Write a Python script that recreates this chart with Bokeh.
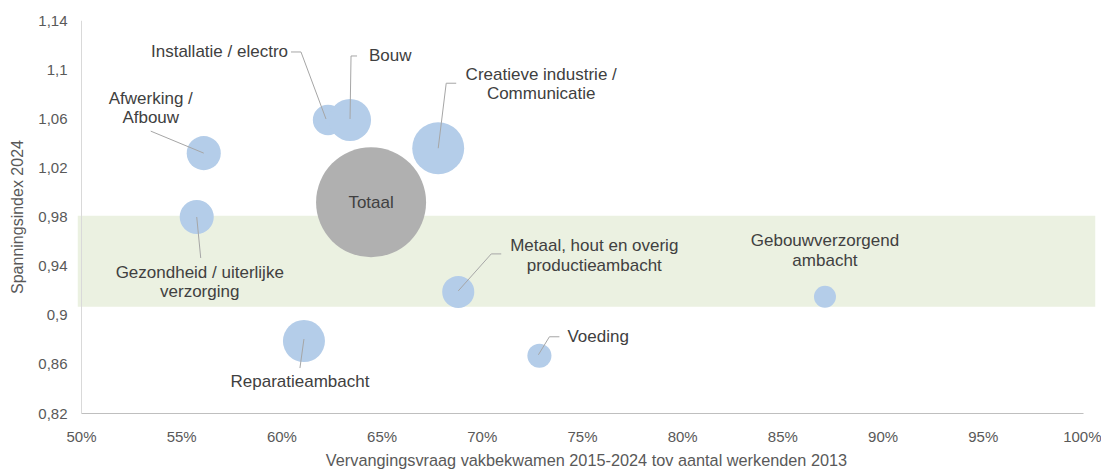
import math
from bokeh.plotting import figure
from bokeh.models import FixedTicker, ColumnDataSource, Range1d
from bokeh.core.properties import value
from bokeh.embed import file_html
from bokeh.resources import INLINE

# ---------------- data ----------------
categories = ["Afwerking /\nAfbouw", "Gezondheid / uiterlijke\nverzorging", "Installatie / electro",
              "Bouw", "Totaal", "Creatieve industrie /\nCommunicatie",
              "Metaal, hout en overig\nproductieambacht", "Reparatieambacht", "Voeding",
              "Gebouwverzorgend\nambacht"]
vervangingsvraag = [56.1, 55.75, 62.3, 63.4, 64.45, 67.8, 68.8, 61.1, 72.85, 87.1]   # %
spanningsindex = [1.032, 0.980, 1.059, 1.059, 0.992, 1.036, 0.919, 0.879, 0.867, 0.915]
bubble_size = [9.6, 9.6, 7.6, 14.6, 100.0, 22.3, 8.5, 14.6, 4.8, 4.0]            # relative, Totaal = 100
is_total = [False, False, False, False, True, False, False, False, False, False]

x_ticks = [50, 55, 60, 65, 70, 75, 80, 85, 90, 95, 100]
x_tick_labels = ["50%", "55%", "60%", "65%", "70%", "75%", "80%", "85%", "90%", "95%", "100%"]
y_ticks = [0.82, 0.86, 0.90, 0.94, 0.98, 1.02, 1.06, 1.10, 1.14]
y_tick_labels = ["0,82", "0,86", "0,9", "0,94", "0,98", "1,02", "1,06", "1,1", "1,14"]
band_bottom, band_top = 0.907, 0.981

x_title = "Vervangingsvraag vakbekwamen 2015-2024 tov aantal werkenden 2013"
y_title = "Spanningsindex 2024"

# ---------------- label placement (screen px offsets from bubble centre) ----------------
label_dx = [-53, 3, -40, 19, 0, 103, 136, -4, 28, 0]
label_dy = [-55, 55, -68, -64, 0, -74, -46, 40, -19, -56]
label_align = ["center", "center", "right", "left", "center", "center", "center", "center", "left", "center"]
leaders = [
    [(-53, -22), (0, 0)],
    [(0, 0), (4, 41)],
    [(-37, -68), (-27, -68), (-2, -1)],
    [(7, -64), (1, -64), (0, -1)],
    None,
    [(18, -65), (8, -65), (0, 0)],
    [(43, -38), (33, -38), (0, -1)],
    [(0, -2), (-4, 27)],
    [(20, -19), (10, -19), (-1, -1)],
    None,
]
LINE_H = 19.5

# ---------------- figure ----------------
x_start, x_end = 49.8, 100.6
y_start, y_end = 0.82, 1.14
FW, FH = 1018, 393
XS = FW / (x_end - x_start)
YS = FH / (y_end - y_start)

FONT = "Liberation Sans"

p = figure(frame_width=FW, frame_height=FH,
           x_range=Range1d(x_start, x_end), y_range=Range1d(y_start, y_end),
           output_backend="svg", toolbar_location=None,
           min_border_left=77, min_border_right=6, min_border_top=20, min_border_bottom=20,
           x_axis_label=x_title, y_axis_label=y_title)
p.grid.visible = False
p.outline_line_color = None
p.background_fill_color = "white"
p.border_fill_color = "white"

xa = p.xaxis[0]
xa.ticker = FixedTicker(ticks=x_ticks)
xa.major_label_overrides = {t: l for t, l in zip(x_ticks, x_tick_labels)}
xa.bounds = (50, 100)
xa.axis_line_color = "#bfbfbf"
xa.axis_line_width = 1
xa.major_tick_line_color = None
xa.minor_tick_line_color = None
xa.major_tick_out = 0
xa.major_tick_in = 0
xa.minor_tick_out = 0
xa.minor_tick_in = 0
xa.major_label_standoff = 14
xa.major_label_text_font = FONT
xa.major_label_text_font_size = "15px"
xa.major_label_text_color = "#595959"
xa.axis_label_text_font = FONT
xa.axis_label_text_font_size = "16.3px"
xa.axis_label_text_font_style = "normal"
xa.axis_label_text_color = "#595959"
xa.axis_label_standoff = 3

ya = p.yaxis[0]
ya.ticker = FixedTicker(ticks=y_ticks)
ya.major_label_overrides = {t: l for t, l in zip(y_ticks, y_tick_labels)}
ya.axis_line_color = None
ya.major_tick_line_color = None
ya.minor_tick_line_color = None
ya.major_tick_out = 0
ya.major_tick_in = 0
ya.minor_tick_out = 0
ya.minor_tick_in = 0
ya.major_label_standoff = 10
ya.major_label_text_font = FONT
ya.major_label_text_font_size = "15px"
ya.major_label_text_color = "#595959"
ya.axis_label_text_font = FONT
ya.axis_label_text_font_size = "16px"
ya.axis_label_text_font_style = "normal"
ya.axis_label_text_color = "#595959"
ya.axis_label_standoff = 9

# green band
p.quad(left=x_start, right=x_end, bottom=band_bottom, top=band_top,
       fill_color="#ebf1e1", line_color=None)
# vertical axis line at 50%
p.segment(x0=[50], y0=[y_start], x1=[50], y1=[y_end], line_color="#d9d9d9", line_width=1)

# bubbles
colors = ["#b0b0b0" if t else "#b4cde9" for t in is_total]
diam = [110.0 * math.sqrt(s / 100.0) for s in bubble_size]
src = ColumnDataSource(dict(x=vervangingsvraag, y=spanningsindex, size=diam, color=colors))
p.scatter(x="x", y="y", size="size", fill_color="color", line_color=None, source=src)

# leader lines
lx, ly = [], []
for i, pts in enumerate(leaders):
    if not pts:
        continue
    cx, cy = vervangingsvraag[i], spanningsindex[i]
    lx.append([cx + dx / XS for dx, dy in pts])
    ly.append([cy - dy / YS for dx, dy in pts])
p.multi_line(xs=lx, ys=ly, line_color="#a6a6a6", line_width=1)

# labels
groups = {}
for i, cat in enumerate(categories):
    lines = cat.split("\n")
    for j, line in enumerate(lines):
        g = groups.setdefault(label_align[i], dict(x=[], y=[], text=[], xo=[], yo=[]))
        g["x"].append(vervangingsvraag[i])
        g["y"].append(spanningsindex[i])
        g["text"].append(line)
        g["xo"].append(label_dx[i])
        g["yo"].append(label_dy[i] + j * LINE_H)
for align, g in groups.items():
    p.text(x="x", y="y", text="text", x_offset="xo", y_offset="yo",
           source=ColumnDataSource(g), text_align=align, text_baseline="middle",
           text_font=value(FONT), text_font_size="17px", text_color="#404040")

open("out.html", "w").write(file_html(p, INLINE))
